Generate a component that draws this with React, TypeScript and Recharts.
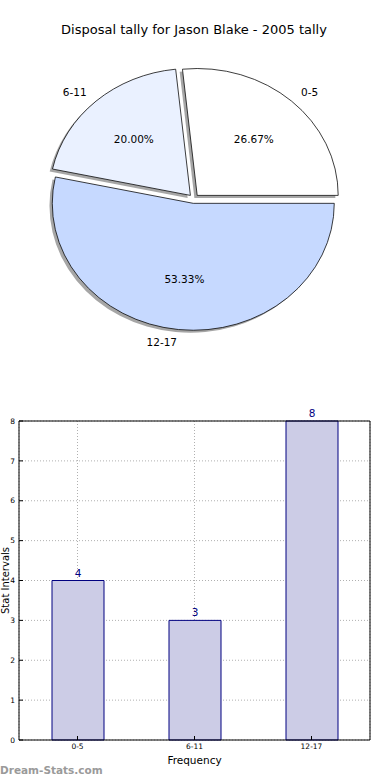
import { PieChart, Pie, Cell, BarChart, Bar, XAxis, YAxis, CartesianGrid, LabelList } from 'recharts'

const FONT = '"DejaVu Sans", sans-serif'

// data
const categories = ['0-5', '6-11', '12-17']
const tallies = [4, 3, 8]
const sliceColors = ['#ffffff', '#eaf1ff', '#c6d9ff']
const yTicks = [0, 1, 2, 3, 4, 5, 6, 7, 8]

const pieData = categories.map((name, i) => ({ name, value: tallies[i] }))
const barData = categories.map((name, i) => ({ name, value: tallies[i] }))

// pie geometry (matplotlib-ish: unequal aspect, every wedge exploded, drop shadow)
const R = 141
const CX = 193.8
const CY = 198.8
const SQUASH = 0.9
const EXPLODE = 0.036
const SHADOW = 2.8
const RAD = Math.PI / 180

const total = tallies.reduce((a, b) => a + b, 0)
const offsets = (() => {
  let acc = 0
  return tallies.map((v) => {
    const mid = ((acc + v / 2) / total) * 360
    acc += v
    return { dx: EXPLODE * R * Math.cos(mid * RAD), dy: -EXPLODE * R * Math.sin(mid * RAD) }
  })
})()

const unsquash = (x: number, y: number) =>
  `translate(${x} ${y}) scale(1 ${1 / SQUASH}) translate(${-x} ${-y})`

function sliceLabel(active: number) {
  return (p: any) => {
    if (p.index !== active) return null
    const cos = Math.cos(-p.midAngle * RAD)
    const sin = Math.sin(-p.midAngle * RAD)
    const px = p.cx + 0.6 * p.outerRadius * cos
    const py = p.cy + 0.6 * p.outerRadius * sin
    const lx = p.cx + 1.1 * p.outerRadius * cos
    const ly = p.cy + 1.1 * p.outerRadius * sin
    return (
      <g>
        <text x={px} y={py} textAnchor="middle" dominantBaseline="central" fontSize={10.5} fill="#000" transform={unsquash(px, py)}>
          {(p.percent * 100).toFixed(2)}%
        </text>
        <text x={lx} y={ly} textAnchor={cos >= 0 ? 'start' : 'end'} dominantBaseline="central" fontSize={10.5} fill="#000" transform={unsquash(lx, ly)}>
          {categories[p.index]}
        </text>
      </g>
    )
  }
}

export default function App() {
  return (
    <div style={{ position: 'absolute', left: 0, top: 0, width: 390, height: 780, background: '#fff', fontFamily: FONT, overflow: 'hidden' }}>
      <div style={{ position: 'absolute', left: 0, top: 22, width: 388, textAlign: 'center', fontSize: 13, lineHeight: '16px', color: '#000' }}>
        Disposal tally for Jason Blake - 2005 tally
      </div>

      {/* pie */}
      <div style={{ position: 'absolute', left: 0, top: 0, transform: `scaleY(${SQUASH})`, transformOrigin: `${CX}px ${CY}px` }}>
        <PieChart width={390} height={390} margin={{ top: 0, right: 0, bottom: 0, left: 0 }}>
          {offsets.map((o, i) => (
            <Pie
              key={'shadow' + i}
              data={pieData}
              dataKey="value"
              nameKey="name"
              cx={CX + o.dx - SHADOW}
              cy={CY + o.dy + SHADOW}
              outerRadius={R}
              startAngle={0}
              endAngle={360}
              labelLine={false}
              isAnimationActive={false}
            >
              {pieData.map((_, j) => (
                <Cell key={j} fill={j === i ? '#4d4d4d' : 'none'} fillOpacity={0.5} stroke="none" />
              ))}
            </Pie>
          ))}
          {offsets.map((o, i) => (
            <Pie
              key={'slice' + i}
              data={pieData}
              dataKey="value"
              nameKey="name"
              cx={CX + o.dx}
              cy={CY + o.dy}
              outerRadius={R}
              startAngle={0}
              endAngle={360}
              labelLine={false}
              label={sliceLabel(i)}
              isAnimationActive={false}
            >
              {pieData.map((_, j) => (
                <Cell key={j} fill={j === i ? sliceColors[j] : 'none'} stroke={j === i ? '#000' : 'none'} strokeWidth={0.8} />
              ))}
            </Pie>
          ))}
        </PieChart>
      </div>

      {/* bars */}
      <div style={{ position: 'absolute', left: 0, top: 400 }}>
        <BarChart width={390} height={380} data={barData} margin={{ top: 20, right: 19, bottom: 20, left: 5 }}>
          <XAxis
            dataKey="name"
            height={20}
            tickSize={-4}
            tickMargin={8}
            tick={{ fontSize: 7.5, fill: '#000' }}
            axisLine={{ stroke: '#000' }}
            tickLine={{ stroke: '#000' }}
            label={{ value: 'Frequency', position: 'bottom', offset: -3, fontSize: 10.5, fill: '#000' }}
          />
          <XAxis xAxisId="top" orientation="top" dataKey="name" height={1} tickSize={-4} tick={false} axisLine={{ stroke: '#000' }} tickLine={{ stroke: '#000' }} />
          <YAxis
            domain={[0, 8]}
            ticks={yTicks}
            interval={0}
            width={14}
            tickSize={-4}
            tickMargin={8}
            tick={{ fontSize: 7.5, fill: '#000' }}
            axisLine={{ stroke: '#000' }}
            tickLine={{ stroke: '#000' }}
            label={{ value: 'Stat Intervals', angle: -90, position: 'left', offset: -0.5, fontSize: 10, fill: '#000', style: { textAnchor: 'middle' } }}
          />
          <YAxis yAxisId="right" orientation="right" domain={[0, 8]} ticks={yTicks} interval={0} width={1} tickSize={-4} tick={false} axisLine={{ stroke: '#000' }} tickLine={{ stroke: '#000' }} />
          <Bar dataKey="value" fill="#cccce6" stroke="#000080" strokeWidth={1} barSize={52} isAnimationActive={false}>
            <LabelList dataKey="value" position="top" offset={4} fill="#000080" fontSize={10.5} />
          </Bar>
          <CartesianGrid stroke="#b0b0b0" strokeDasharray="1 2" />
        </BarChart>
      </div>

      <div style={{ position: 'absolute', left: 0, top: 762, fontSize: 10.5, fontWeight: 'bold', color: '#9a9a9a', lineHeight: '16px' }}>
        Dream-Stats.com
      </div>
    </div>
  )
}
